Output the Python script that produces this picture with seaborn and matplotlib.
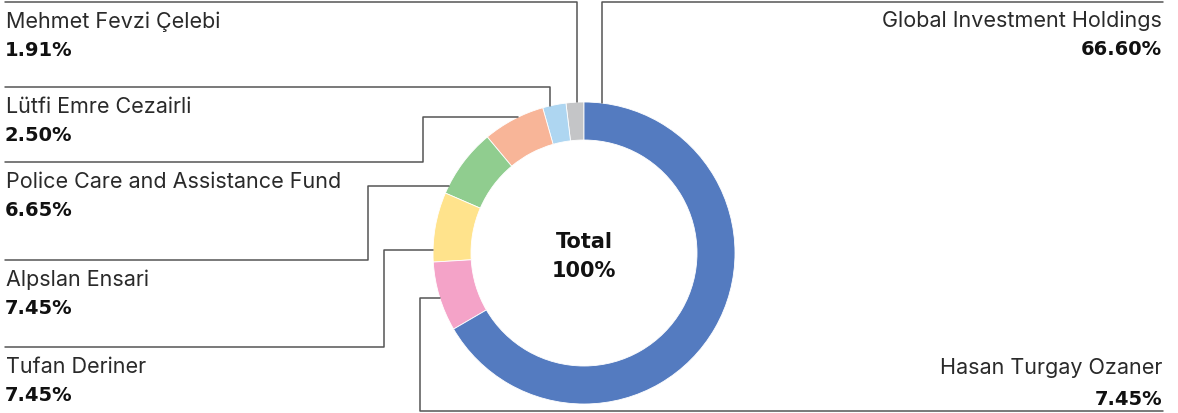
import matplotlib
matplotlib.use("Agg")
import matplotlib.pyplot as plt
import seaborn as sns
import numpy as np

# ---- data (counter-clockwise from 12 o'clock) ----
names = ["Mehmet Fevzi Çelebi", "Lütfi Emre Cezairli", "Police Care and Assistance Fund",
         "Alpslan Ensari", "Tufan Deriner", "Hasan Turgay Ozaner", "Global Investment Holdings"]
shares = [1.91, 2.50, 6.65, 7.45, 7.45, 7.45, 66.60]
value_labels = ["1.91%", "2.50%", "6.65%", "7.45%", "7.45%", "7.45%", "66.60%"]
center_label = ["Total", "100%"]
colors = ["#C4C5C7", "#AED6F1", "#F8B598", "#90CD8F", "#FFE38C", "#F4A3C8", "#547BC0"]

sns.set_theme(style="white")
plt.rcParams["font.family"] = ["Inter", "DejaVu Sans"]

W, H, DPI = 1178, 414, 100
fig = plt.figure(figsize=(W / DPI, H / DPI), dpi=DPI)

# donut geometry in pixels
cx, cy, R, r_in = 584, 254, 151, 113

ax = fig.add_axes([(cx - R) / W, (H - (cy + R)) / H, 2 * R / W, 2 * R / H])
ax.pie(shares, colors=sns.color_palette(colors), startangle=90, counterclock=True,
       radius=1.0, wedgeprops=dict(width=(R - r_in) / R, edgecolor="white", linewidth=0.6))
ax.set_xlim(-1, 1)
ax.set_ylim(-1, 1)
ax.set_aspect("equal")
ax.axis("off")

ov = fig.add_axes([0, 0, 1, 1], facecolor="none")
ov.set_xlim(0, W)
ov.set_ylim(H, 0)
ov.axis("off")

lc = "#555555"
lw = 1.1


def edge_x(y):
    return cx - np.sqrt(R ** 2 - (y - cy) ** 2)


def edge_y(x):
    return cy - np.sqrt(R ** 2 - (x - cx) ** 2)


x_m = 577
ov.plot([5, x_m, x_m], [3, 3, edge_y(x_m)], color=lc, lw=lw)
x_g = 602
ov.plot([x_g, x_g, 1163], [edge_y(x_g), 3, 3], color=lc, lw=lw)
x_l = 550
ov.plot([5, x_l, x_l], [88, 88, edge_y(x_l)], color=lc, lw=lw)
ov.plot([5, 423, 423, edge_x(118)], [163, 163, 118, 118], color=lc, lw=lw)
ov.plot([5, 368, 368, edge_x(187)], [261, 261, 187, 187], color=lc, lw=lw)
ov.plot([5, 384, 384, edge_x(251)], [348, 348, 251, 251], color=lc, lw=lw)
ov.plot([1163, 420, 420, edge_x(299)], [412, 412, 299, 299], color=lc, lw=lw)

fs_name = 15.5
fs_val = 14
name_col = "#2a2a2a"
val_font = ["DejaVu Sans"]

left_lines = {0: 3, 1: 88, 2: 163, 3: 261, 4: 348}
for i, ly in left_lines.items():
    ov.text(6, ly + 25, names[i], ha="left", va="baseline", fontsize=fs_name, color=name_col)
    ov.text(5, ly + 53, value_labels[i], ha="left", va="baseline", fontsize=fs_val,
            fontweight="bold", family=val_font, color="#111111")

ov.text(1162, 27, names[6], ha="right", va="baseline", fontsize=fs_name, color=name_col)
ov.text(1162, 55, value_labels[6], ha="right", va="baseline", fontsize=fs_val,
        fontweight="bold", family=val_font, color="#111111")
ov.text(1162, 374, names[5], ha="right", va="baseline", fontsize=fs_name, color=name_col)
ov.text(1162, 405, value_labels[5], ha="right", va="baseline", fontsize=fs_val,
        fontweight="bold", family=val_font, color="#111111")

ov.text(cx, 248, center_label[0], ha="center", va="baseline", fontsize=15,
        fontweight="bold", family=val_font, color="#111111")
ov.text(cx, 277, center_label[1], ha="center", va="baseline", fontsize=15,
        fontweight="bold", family=val_font, color="#111111")

fig.savefig("out.png", dpi=DPI)
